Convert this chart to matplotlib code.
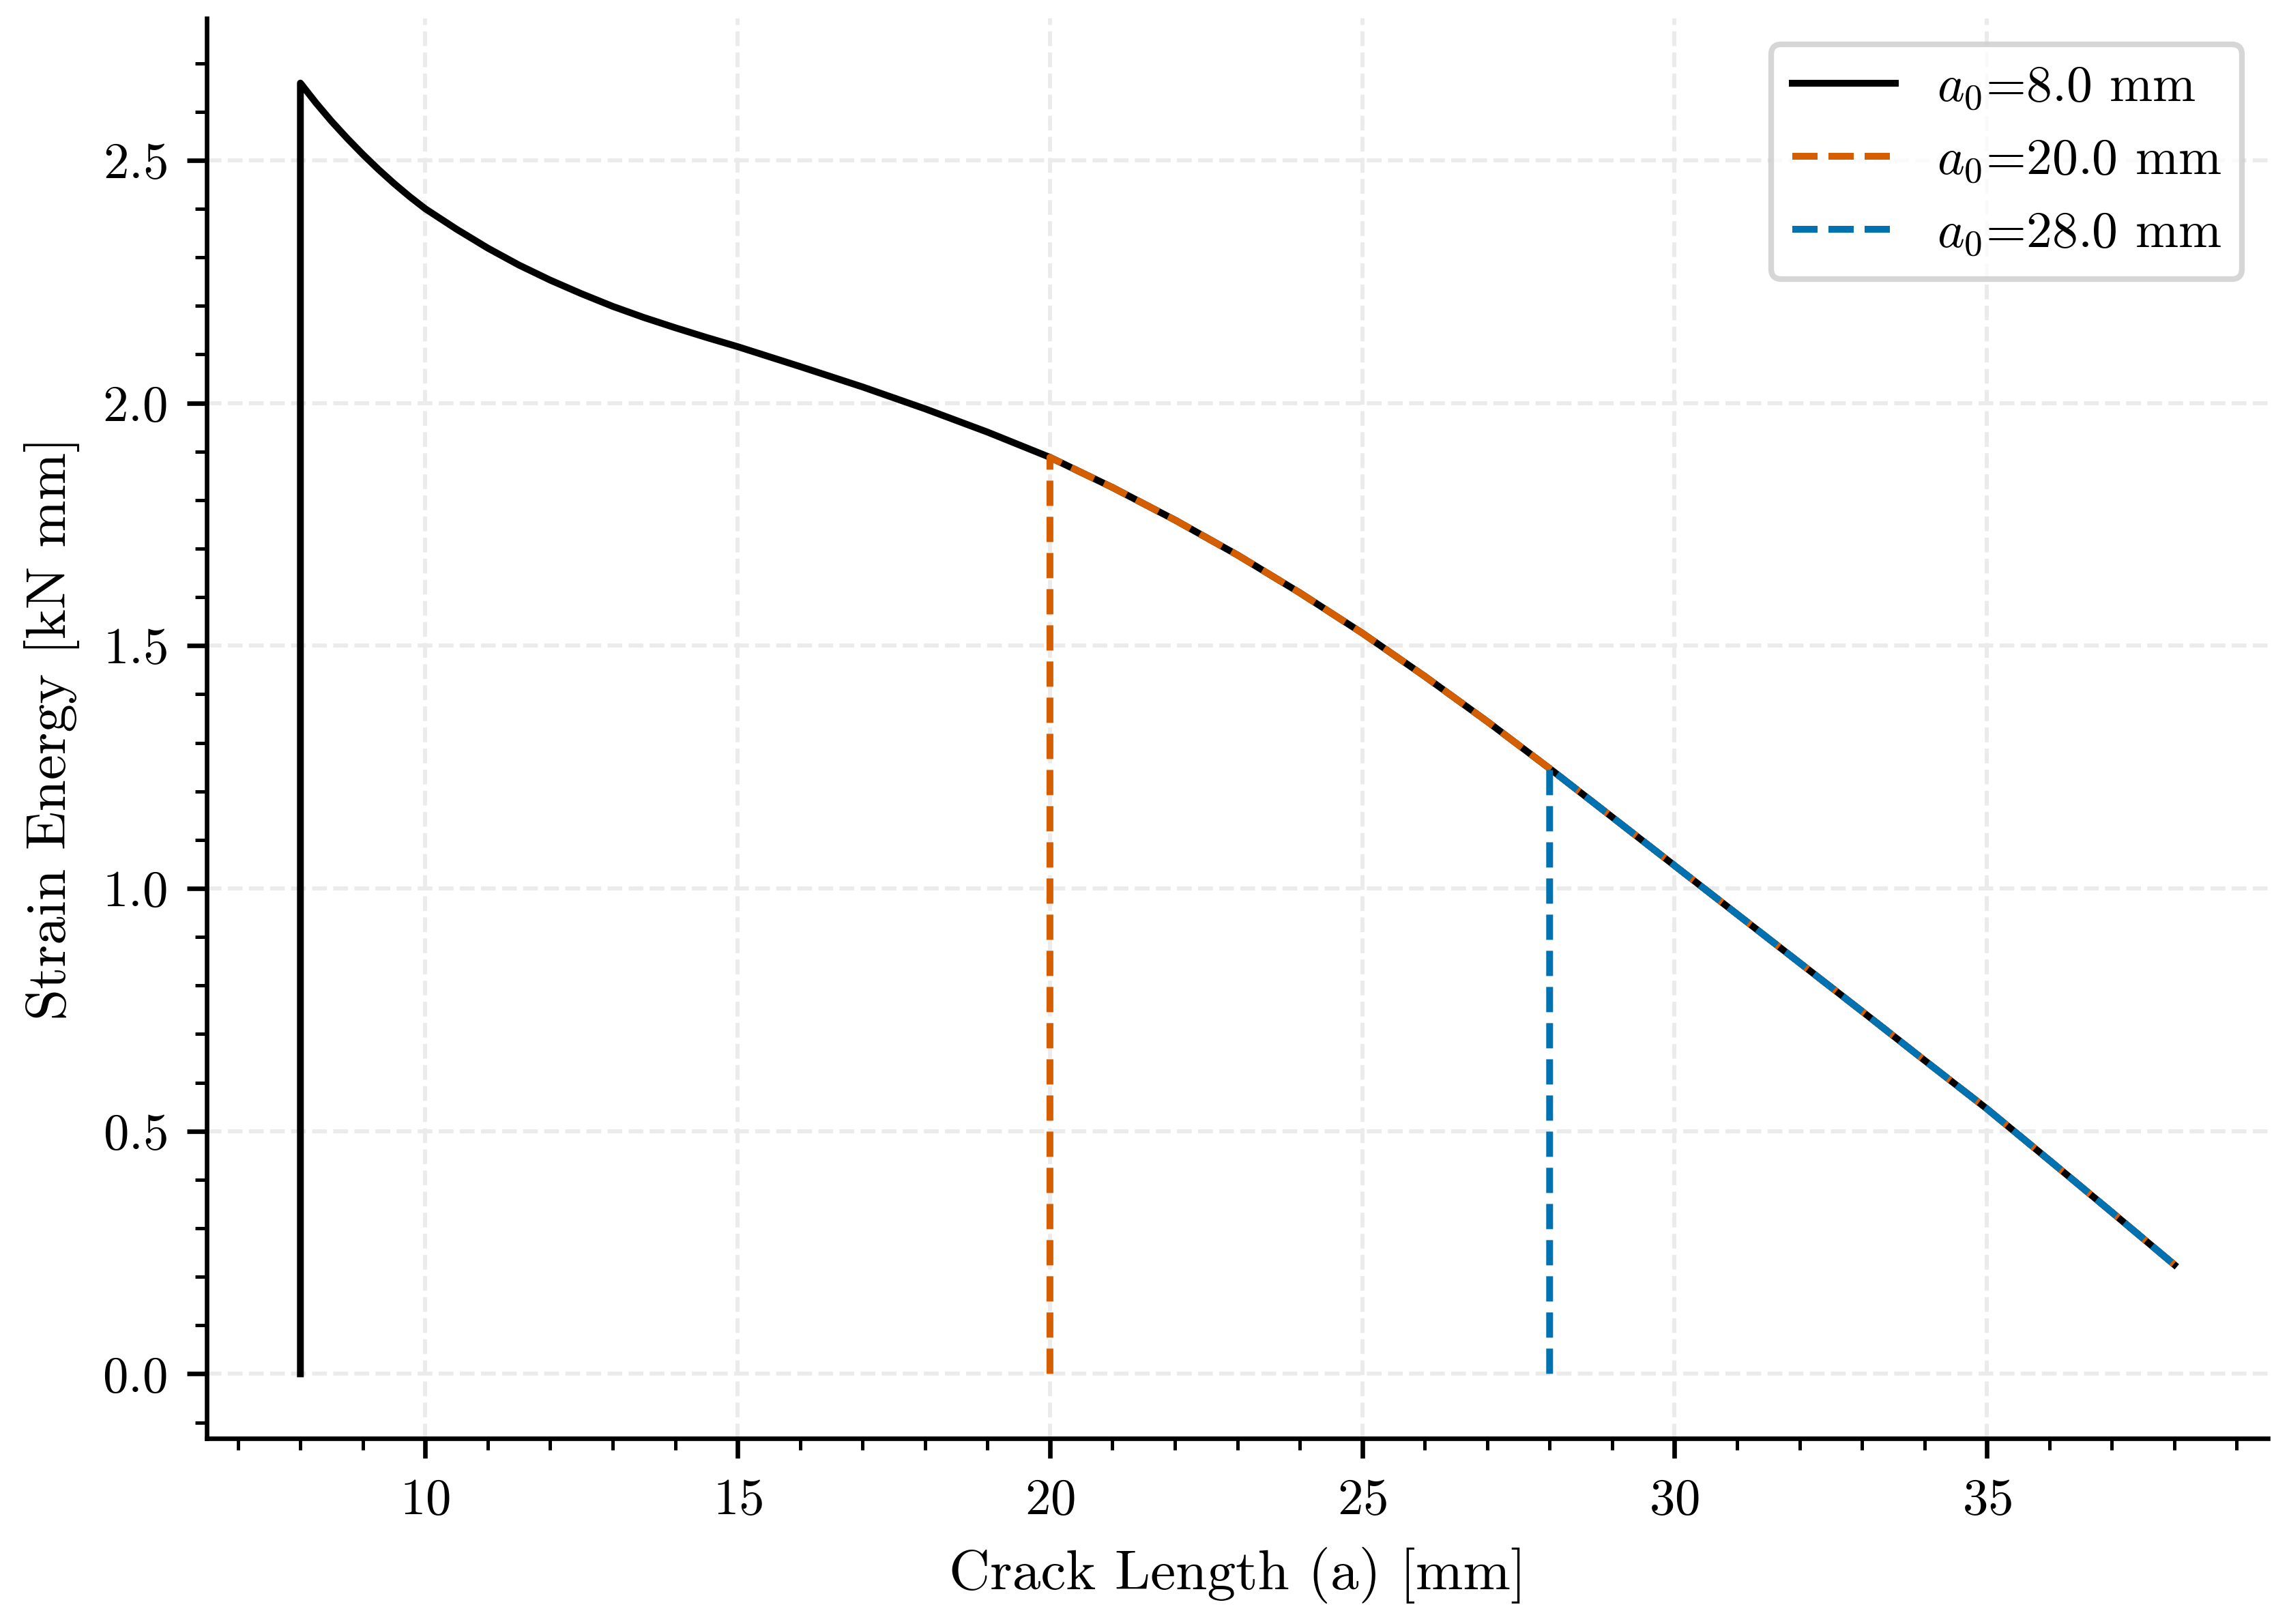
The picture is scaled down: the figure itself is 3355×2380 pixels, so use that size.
import numpy as np
import matplotlib
matplotlib.use("Agg")
import matplotlib.pyplot as plt
from matplotlib.ticker import AutoMinorLocator

plt.rcParams['font.family'] = 'serif'
plt.rcParams['font.serif'] = ['cmr10']
plt.rcParams['mathtext.fontset'] = 'cm'
plt.rcParams['axes.formatter.use_mathtext'] = True
plt.rcParams['axes.unicode_minus'] = False

# Data
crack_length = [8.0, 8.25, 8.5, 8.75, 9.0, 9.25, 9.5, 9.75, 10.0, 10.5, 11.0,
                11.5, 12.0, 12.5, 13.0, 13.5, 14.0, 14.5, 15, 16, 17, 18, 19,
                20, 21, 22, 23, 24, 25, 26, 27, 28, 29, 30, 31, 32, 33, 34,
                35, 36, 37, 38]
strain_energy = [2.659, 2.618, 2.580, 2.545, 2.512, 2.481, 2.452, 2.425, 2.400,
                 2.358, 2.319, 2.284, 2.253, 2.225, 2.199, 2.176, 2.155, 2.135,
                 2.116, 2.075, 2.033, 1.988, 1.940, 1.888, 1.826, 1.759, 1.687,
                 1.609, 1.526, 1.437, 1.344, 1.247, 1.147, 1.047, 0.947, 0.847,
                 0.747, 0.646, 0.546, 0.440, 0.333, 0.225]
initial_cracks = [8.0, 20.0, 28.0]
series_colors = ['black', '#D55E00', '#0072B2']
series_styles = ['-', '--', '--']

fig = plt.figure(figsize=(3355 / 600, 2380 / 600), dpi=600)
ax = fig.add_axes([0.0903, 0.1143, 0.9908 - 0.0903, 0.9886 - 0.1143])

a = np.array(crack_length)
u = np.array(strain_energy)
for a0, col, ls in zip(initial_cracks, series_colors, series_styles):
    m = a >= a0 - 1e-9
    xs = np.concatenate([[a0], a[m]])
    ys = np.concatenate([[0.0], u[m]])
    ax.plot(xs, ys, color=col, linestyle=ls, linewidth=1.2,
            label=r'$a_0$=%.1f mm' % a0)

ax.set_xlabel('Crack Length (a) [mm]', fontsize=10)
ax.set_ylabel('Strain Energy [kN mm]', fontsize=10)
ax.tick_params(labelsize=9)
ax.xaxis.set_minor_locator(AutoMinorLocator())
ax.yaxis.set_minor_locator(AutoMinorLocator())
ax.spines['top'].set_visible(False)
ax.spines['right'].set_visible(False)
ax.grid(True, which='major', linestyle='--', color='#ebebeb', linewidth=0.7)
ax.legend(loc='upper right', fontsize=9.1)

fig.savefig('out.png', dpi=600)
